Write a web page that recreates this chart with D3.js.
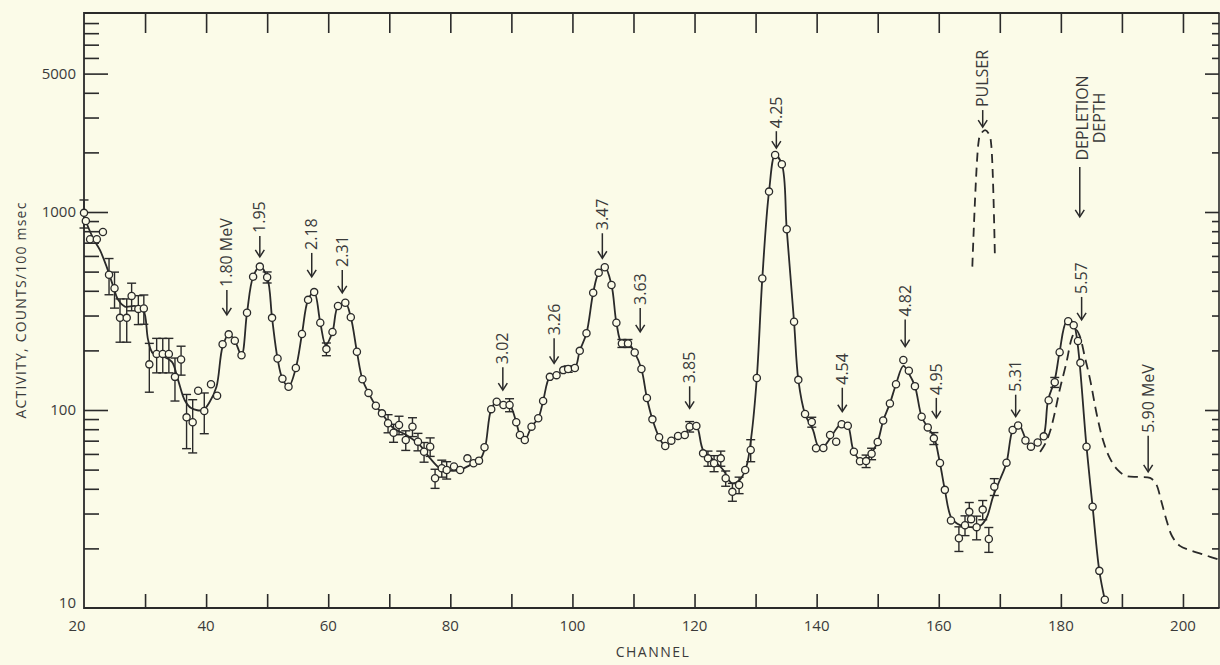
<!DOCTYPE html>
<html lang="en">
<head>
<meta charset="utf-8">
<title>activity vs channel</title>
<script src="https://d3js.org/d3.v7.min.js"></script>
<style>
  body { margin: 0; background: #fbfbe8; }
  svg { display: block; font-family: "Open Sans", sans-serif; }
</style>
</head>
<body>
<svg id="chart" width="1220" height="665"></svg>
<script>
// measured points: channel, counts per 100 msec, error (0 = no bar)
const channels = [20.0,20.3,21.0,22.1,23.1,24.1,25.0,25.9,27.0,27.8,28.9,29.8,30.7,31.9,32.9,33.9,34.9,35.9,36.8,37.8,
  38.7,39.7,40.8,41.8,42.7,43.7,44.7,45.8,46.7,47.7,48.8,50.0,50.8,51.7,52.5,53.5,54.7,55.7,56.7,57.7,
  58.7,59.7,60.7,61.6,62.8,63.7,64.7,65.6,66.6,67.8,68.8,69.8,70.7,71.6,72.7,73.8,74.7,75.7,76.7,77.5,
  78.6,79.4,80.6,81.6,82.8,83.8,84.7,85.6,86.7,87.6,88.7,89.7,90.8,91.4,92.2,93.3,94.4,95.2,96.3,97.4,
  98.5,99.3,100.4,101.2,102.3,103.4,104.3,105.3,106.4,107.2,108.1,109.1,110.2,111.3,112.2,113.1,114.2,115.2,116.2,117.3,
  118.4,119.2,120.3,121.4,122.2,123.2,124.3,125.1,126.2,127.3,128.3,129.2,130.2,131.1,132.2,133.2,134.3,135.1,136.3,137.0,
  138.1,139.2,139.9,141.1,142.2,143.2,144.1,145.1,146.1,147.1,148.1,149.0,150.0,150.9,152.0,153.0,154.2,155.1,156.1,157.2,
  158.2,159.2,160.2,161.0,162.0,163.3,164.3,165.0,165.3,166.2,167.2,168.2,169.1,171.1,172.1,173.0,174.2,175.1,176.2,177.2,
  178.0,179.0,179.8,181.2,182.1,182.8,183.2,184.2,185.2,186.3,187.2];
const counts = [990,900,728,728,792,482,412,292,292,377,324,326,170,192,192,192,147,180,91.8,86.7,
  125,98.9,135,118,215,241,224,189,310,471,530,468,292,182,144,131,163,242,360,394,
  276,203,248,335,348,294,197,143,122,105,96.2,85.7,76.7,84,70.5,82.4,69.2,61.5,65.3,45.2,
  50.8,49.8,51.8,49.8,57,53.8,55.5,64.9,101,110,106,106,86.7,74.8,70.5,82.4,90.8,111,147,150,
  159,161,163,199,244,391,493,526,428,276,217,217,195,161,115,89.7,72.8,65.8,70,74,
  74.8,82.4,83,60.4,57,53.8,57,45.2,38.6,41.8,49.8,62.8,145,462,1268,1941,1742,818,279,142,
  95.5,86.9,64.1,64.3,74.8,69.2,84.7,83.2,61.5,55.1,55.2,60.1,68.9,88.5,108,135,179,158,132,92.5,
  81.7,71.9,54,39.5,27.7,22.5,26.2,30.6,28.1,25.6,31.4,22.3,41,54.2,79.3,83.5,70.2,65.3,68.5,73.6,
  112,138,196,281,268,223,173,65.3,32.5,15.4,11.0];
const errors = [160,0,0,0,0,100,85,72,72,60,54,55,47,38,38,38,36,30,28,26,
  0,23,0,0,0,0,0,0,0,0,0,30,0,0,0,0,0,0,0,0,
  0,15,0,0,0,0,0,0,0,0,0,9,8,9,8,9,7,7,7,5,
  5,5,0,0,0,0,0,0,0,0,0,8,0,0,0,0,0,0,0,0,
  0,6,0,0,0,0,0,0,0,0,10,10,0,0,0,0,0,0,0,0,
  0,5,0,0,5,5,5,4,4,4,0,8,0,0,0,0,0,0,0,0,
  0,5,0,0,0,0,0,0,0,0,4,4,0,0,0,0,0,0,0,0,
  0,5,0,0,0,3.2,3,3.5,0,3.5,3.5,3.2,4,0,0,0,0,0,0,0,
  0,8,0,0,0,0,0,0,0,0,0];

// hand-drawn smooth curve through the points
const fitCh = [20.0,21.5,22.6,23.7,24.8,25.6,26.7,28.4,29.7,30.5,31.3,33.0,34.4,35.4,36.5,37.6,39.5,40.6,41.7,42.7,
  43.7,44.7,45.8,46.7,47.7,48.8,50.0,50.8,51.7,52.5,53.5,54.7,55.7,56.7,57.7,58.7,59.6,60.7,61.6,62.8,
  63.7,64.7,65.6,66.6,67.8,68.8,70.7,72.8,75.0,76.7,78.3,79.9,81.6,83.2,84.9,85.7,86.7,87.6,88.7,89.7,
  90.8,91.4,92.2,93.3,94.4,95.2,96.3,97.4,98.5,99.3,100.4,101.2,102.3,103.4,104.3,105.3,106.4,107.2,108.1,109.1,
  110.2,111.3,112.2,113.1,114.2,115.2,116.2,117.3,118.4,119.2,120.3,121.4,123.1,124.7,126.1,127.4,128.5,129.3,130.2,131.1,
  132.2,133.2,134.3,135.1,136.3,137.0,138.1,139.4,140.3,141.1,142.2,143.3,144.1,145.1,146.0,147.1,148.2,149.0,150.0,150.9,
  152.0,153.0,154.2,155.1,156.1,157.2,158.2,159.2,160.2,161.0,162.1,163.5,165.1,166.7,167.8,168.9,170.0,171.1,172.1,173.0,
  174.4,175.2,176.3,177.2,177.9,179.0,179.8,180.9,181.7,182.2,182.8,184.2,185.2,186.3,187.2];
const fitCounts = [946,736,643,530,420,360,333,335,320,226,193,186,175,142,112,102,100,110,131,209,
  241,224,189,310,471,530,468,292,182,144,131,163,242,360,394,276,213,248,335,348,
  294,197,143,122,105,96.2,80.9,74.8,66.5,57,50.8,49.4,49.8,52.7,56.4,64.9,101,110,106,106,
  86.7,74.8,70.5,82.4,90.8,111,147,150,159,161,163,199,244,391,493,526,428,276,217,217,
  195,161,115,89.7,72.8,65.8,70,74,74.8,82.4,83,62.8,55.8,49.8,42.7,44.3,51.8,73.3,145,462,
  1268,1941,1742,818,279,142,95.5,79.3,65.3,65.3,71.9,80.9,85.7,83.2,62.8,55.8,55.8,60.4,69.2,88.3,
  108,135,167,153,132,92.5,81.7,73.3,53.8,39.5,28.4,26.2,25.6,25.9,28.4,36.5,44.3,54.2,79.3,85.7,
  69.7,65.3,69.2,74.8,112,142,197,279,282,268,209,65.3,32.5,15.4,11.0];

// dashed: pulser peak
const pulserCh = [165.5,166.5,166.8,167.6,168.3,168.6,169.2];
const pulserCounts = [530,2230,2450,2590,2450,2180,584];

// dashed: spectrum beyond depletion depth
const depthCh = [176.6,177.5,178.2,179.0,179.8,180.9,181.8,182.5,183.1,183.9,184.8,185.9,186.9,188.0,189.3,190.7,192.9,194.6,195.6,196.4,
  197.2,198.2,199.5,201.1,203.6,206.0];
const depthCounts = [61.4,68.1,77.4,96.6,126,173,231,254,236,187,142,94.4,70.5,57.3,49.8,46.4,45.9,45.4,42.3,35.1,
  28.5,23.1,20.6,19.6,18.5,17.5];

// energy labels: text, channel and count at the arrow tip, arrow length
const annoText = ["1.80 MeV","1.95","2.18","2.31","3.02","3.26","3.47","3.63","3.85","4.25","4.54","4.82","4.95","5.31","5.57","5.90 MeV","PULSER"];
const annoCh = [43.4,48.8,57.3,62.3,88.6,97.0,104.9,111.1,119.2,133.4,144.2,154.5,159.6,172.6,183.4,194.3,167.2];
const annoCounts = [302,593,470,390,126,172,584,248,102,2100,98,209,91.2,92.5,285,48.7,2685];
const annoLen = [25,21,24,23,23,25,25,24,22,17,24,27,20,22,23,36,17];

const xTickLabels = [20,40,60,80,100,120,140,160,180,200];
const yTickLabels = [10,100,1000,5000];

const ink = "#2a2a2a", paper = "#fbfbe8", textCol = "#3a3a3a";

const svg = d3.select("#chart");
const x = d3.scaleLinear().domain([20, 206]).range([84, 1219.6]);
const y = d3.scaleLog().domain([10, 10000]).range([608, 14]);

// frame
svg.append("path")
  .attr("d", `M${x(206)},13 H84 V608 H${x(206)}`)
  .attr("fill", "none").attr("stroke", ink).attr("stroke-width", 1.8);
svg.append("line").attr("x1", 1219).attr("x2", 1219).attr("y1", 13).attr("y2", 608)
  .attr("stroke", ink).attr("stroke-width", 1.6);

// ticks
const xTickVals = d3.range(30, 201, 10);
const yMinor = [];
[10, 100, 1000].forEach(d => { for (let k = 2; k <= 9; k++) if (d * k !== 5000) yMinor.push(d * k); });
const yMajor = [100, 1000, 5000];

function styleTicks(g) {
  g.select(".domain").remove();
  g.selectAll("line").attr("stroke", ink).attr("stroke-width", 1.6);
  g.selectAll("text").remove();
}
svg.append("g").attr("transform", "translate(0,608)")
  .call(d3.axisBottom(x).tickValues(xTickVals).tickSize(-14).tickFormat("")).call(styleTicks);
svg.append("g").attr("transform", "translate(0,13)")
  .call(d3.axisTop(x).tickValues(xTickVals).tickSize(-20).tickFormat("")).call(styleTicks);
svg.append("g").attr("transform", "translate(84,0)")
  .call(d3.axisLeft(y).tickValues(yMinor).tickSize(-15).tickFormat("")).call(styleTicks);
svg.append("g").attr("transform", "translate(84,0)")
  .call(d3.axisLeft(y).tickValues(yMajor).tickSize(-24).tickFormat("")).call(styleTicks);
svg.append("g").attr("transform", "translate(1219,0)")
  .call(d3.axisRight(y).tickValues(yMinor).tickSize(-7).tickFormat("")).call(styleTicks);
svg.append("g").attr("transform", "translate(1219,0)")
  .call(d3.axisRight(y).tickValues(yMajor).tickSize(-14).tickFormat("")).call(styleTicks);

// tick labels
svg.append("g").selectAll("text").data(xTickLabels).join("text")
  .attr("x", d => x(d) - (d === 20 ? 7 : 0)).attr("y", 626).attr("dy", "0.35em")
  .attr("text-anchor", "middle").attr("font-size", 15).attr("fill", textCol).text(d => d);
svg.append("g").selectAll("text").data(yTickLabels).join("text")
  .attr("x", 76).attr("y", d => y(d) - (d === 10 ? 5 : 0)).attr("dy", "0.35em")
  .attr("text-anchor", "end").attr("font-size", 15).attr("fill", textCol).text(d => d);

// axis titles
svg.append("text").attr("x", 653).attr("y", 652).attr("dy", "0.35em")
  .attr("text-anchor", "middle").attr("font-size", 14).attr("letter-spacing", 1.5)
  .attr("fill", textCol).text("CHANNEL");
svg.append("text").attr("transform", "translate(21,310) rotate(-90)").attr("dy", "0.35em")
  .attr("text-anchor", "middle").attr("font-size", 14).attr("letter-spacing", 1.2)
  .attr("fill", textCol).text("ACTIVITY,  COUNTS/100 msec");

// curves
const line = d3.line().x(d => x(d[0])).y(d => y(d[1])).curve(d3.curveCatmullRom.alpha(0.5));
svg.append("path").datum(d3.zip(fitCh, fitCounts)).attr("d", line)
  .attr("fill", "none").attr("stroke", ink).attr("stroke-width", 1.8);
svg.append("path").datum(d3.zip(pulserCh, pulserCounts)).attr("d", line)
  .attr("fill", "none").attr("stroke", ink).attr("stroke-width", 1.8).attr("stroke-dasharray", "9,6");
svg.append("path").datum(d3.zip(depthCh, depthCounts)).attr("d", line)
  .attr("fill", "none").attr("stroke", ink).attr("stroke-width", 1.8).attr("stroke-dasharray", "10,6");

// error bars
const pts = channels.map((c, i) => ({ c: c, v: counts[i], e: errors[i] }));
const eb = svg.append("g").attr("stroke", ink).attr("stroke-width", 1.4);
pts.filter(d => d.e > 0).forEach(d => {
  const cx = x(d.c), y0 = y(d.v - d.e), y1 = y(d.v + d.e);
  eb.append("line").attr("x1", cx).attr("x2", cx).attr("y1", y0).attr("y2", y1);
  eb.append("line").attr("x1", cx - 4.5).attr("x2", cx + 4.5).attr("y1", y0).attr("y2", y0);
  eb.append("line").attr("x1", cx - 4.5).attr("x2", cx + 4.5).attr("y1", y1).attr("y2", y1);
});

// points
svg.append("g").selectAll("circle").data(pts).join("circle")
  .attr("cx", d => x(d.c)).attr("cy", d => y(d.v)).attr("r", 3.6)
  .attr("fill", paper).attr("stroke", ink).attr("stroke-width", 1.3);

// arrows and energy labels
function arrow(g, len) {
  g.append("line").attr("x1", 0).attr("x2", 0).attr("y1", -len).attr("y2", -1)
    .attr("stroke", ink).attr("stroke-width", 1.5);
  g.append("path").attr("d", "M-4.5,-7 L0,0 L4.5,-7").attr("fill", "none")
    .attr("stroke", ink).attr("stroke-width", 1.5);
}
annoText.forEach((t, i) => {
  const g = svg.append("g").attr("transform", `translate(${x(annoCh[i])},${y(annoCounts[i])})`);
  arrow(g, annoLen[i]);
  g.append("text").attr("transform", `translate(0,${-annoLen[i] - 3}) rotate(-90)`)
    .attr("dy", "0.35em").attr("font-size", 16).attr("fill", textCol).text(t);
});

// depletion depth marker
const dep = svg.append("g").attr("transform", `translate(${x(183.1)},${y(944)})`);
arrow(dep, 50);
dep.append("text").attr("transform", "translate(3,-99) rotate(-90)").attr("dy", "0.35em")
  .attr("text-anchor", "middle").attr("font-size", 16).attr("fill", textCol).text("DEPLETION");
dep.append("text").attr("transform", "translate(20,-99) rotate(-90)").attr("dy", "0.35em")
  .attr("text-anchor", "middle").attr("font-size", 16).attr("fill", textCol).text("DEPTH");
</script>
</body>
</html>
